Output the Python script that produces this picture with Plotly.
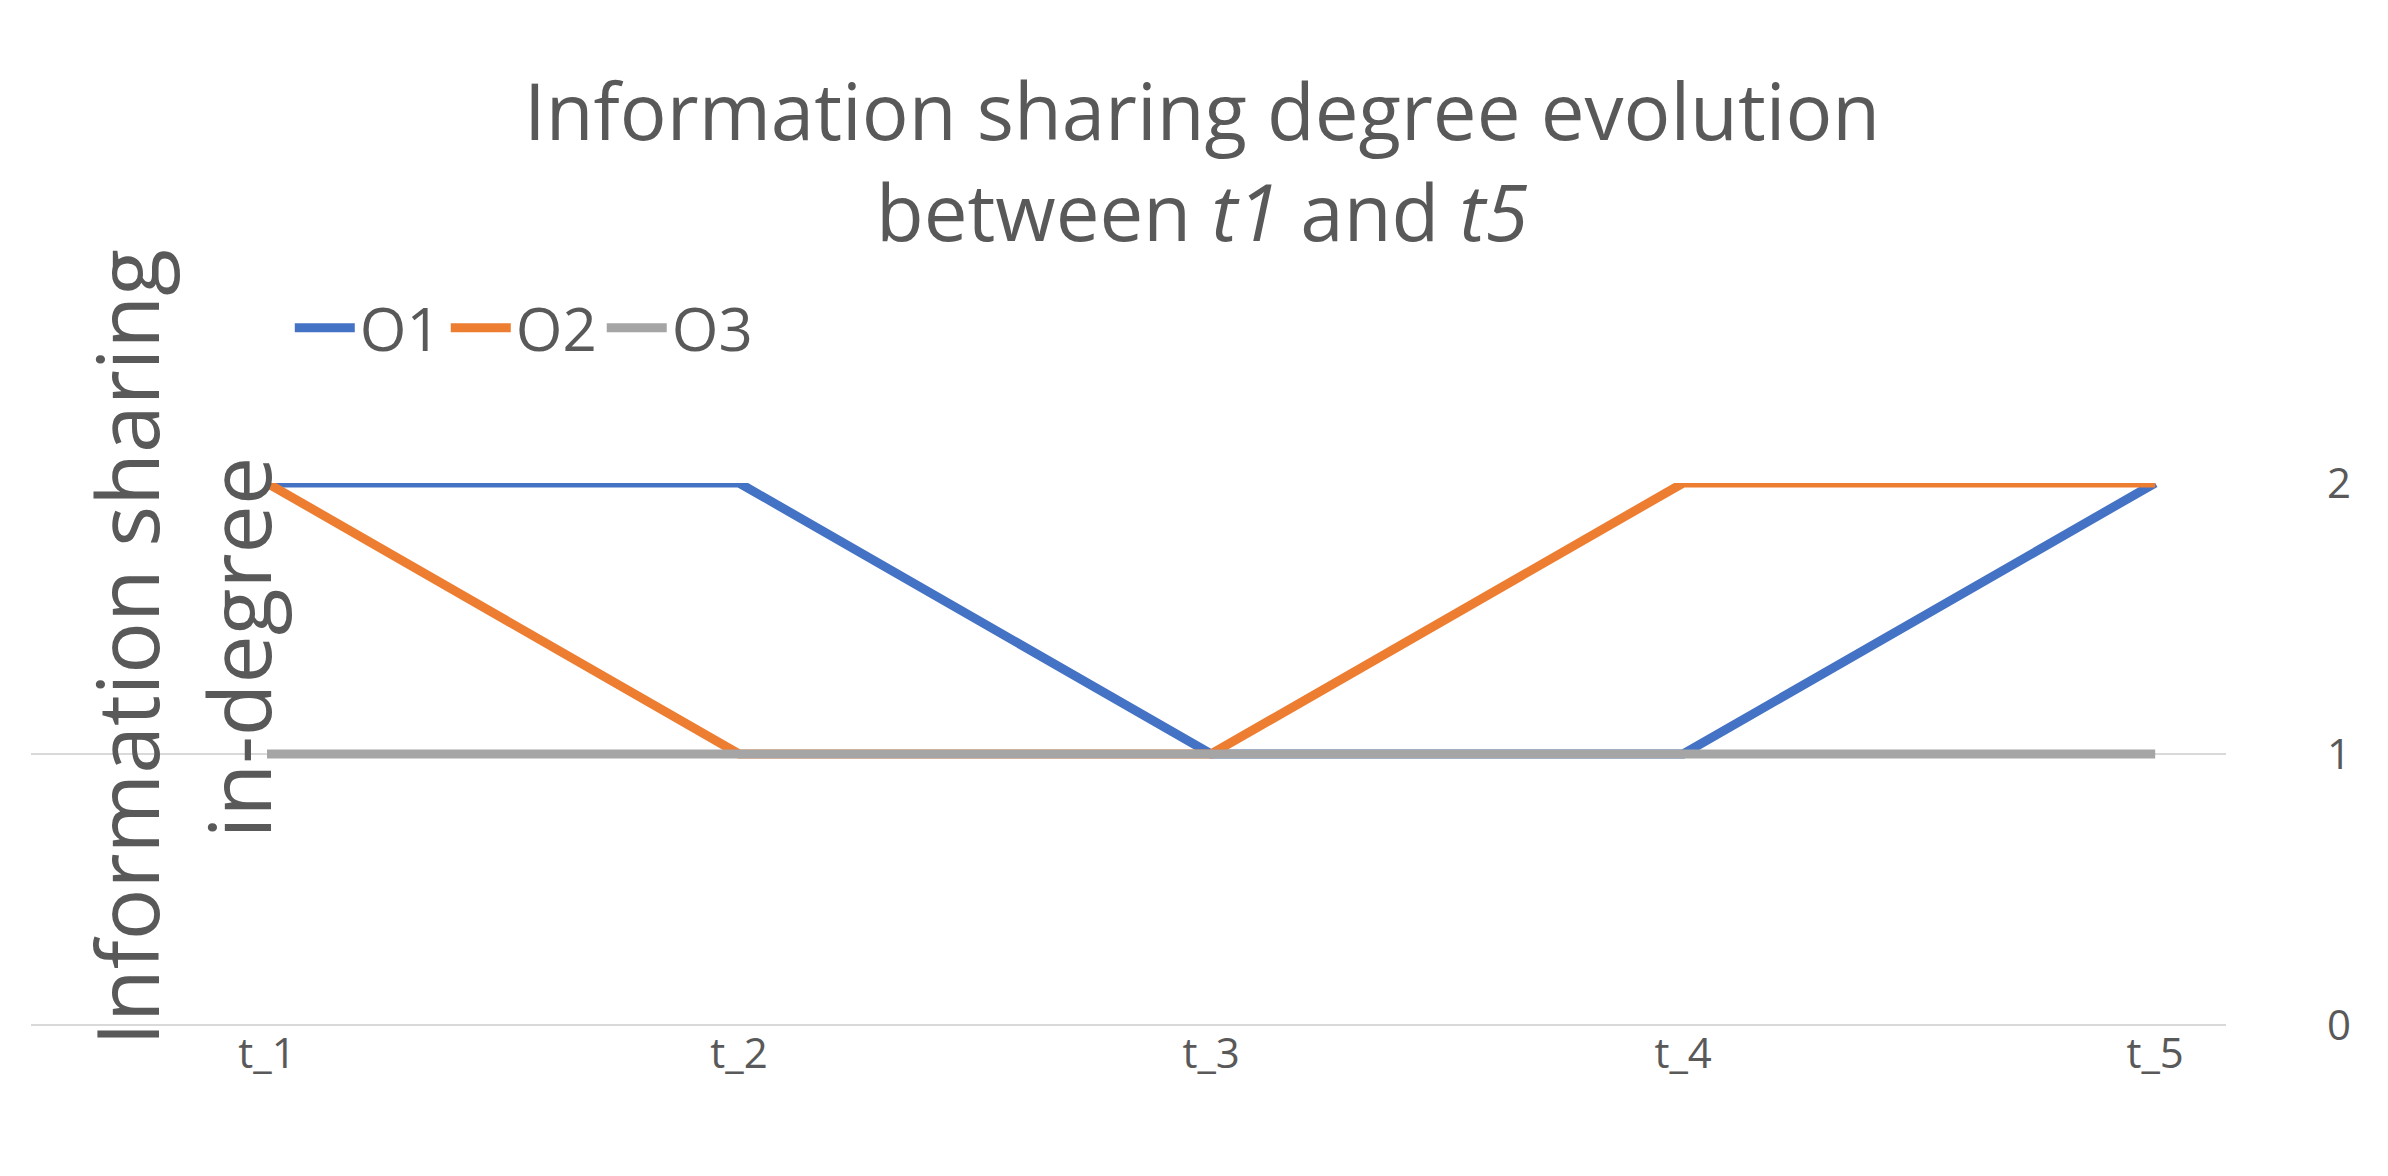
import plotly.graph_objects as go

categories = ["t_1", "t_2", "t_3", "t_4", "t_5"]
o1 = [2, 2, 1, 1, 2]
o2 = [2, 1, 1, 2, 2]
o3 = [1, 1, 1, 1, 1]
series = [("O1", o1, "#4472C4"), ("O2", o2, "#ED7D31"), ("O3", o3, "#A5A5A5")]

fig = go.Figure()
xs = list(range(len(categories)))
for name, vals, col in series:
    fig.add_trace(go.Scatter(x=xs, y=vals, mode="lines", name=name,
                             line=dict(color=col, width=9)))

font = "Open Sans, Liberation Sans, sans-serif"
fig.update_layout(
    width=2388, height=1176,
    paper_bgcolor="white", plot_bgcolor="white",
    margin=dict(l=23, r=170, t=475, b=159),
    font=dict(family=font, color="#595959"),
    showlegend=True,
    legend=dict(orientation="h", xref="container", yref="container",
                x=0.118, xanchor="left", y=0.728, yanchor="middle",
                font=dict(size=60, color="#595959"), bgcolor="rgba(0,0,0,0)",
                itemwidth=60),
    xaxis=dict(tickmode="array", tickvals=xs, ticktext=categories,
               range=[-0.5, 4.15], showgrid=False, zeroline=False, showline=False,
               tickfont=dict(size=42, color="#595959"), ticks=""),
    yaxis=dict(range=[0, 2], side="right", tickvals=[0, 1, 2],
               showgrid=True, gridcolor="#D9D9D9", gridwidth=2,
               zeroline=True, zerolinecolor="#D9D9D9", zerolinewidth=2,
               tickfont=dict(size=42, color="#595959"), ticklabelstandoff=100),
)
fig.add_annotation(text="Information sharing degree evolution<br>between <i>t1</i> and <i>t5</i>",
                   xref="paper", yref="paper", x=0.5, y=1,
                   xanchor="center", yanchor="middle", showarrow=False,
                   xshift=(1194 - (23 + 2218) / 2), yshift=475 - 152,
                   font=dict(size=78, color="#595959"))
fig.add_annotation(text="Information sharing<br>in-degree", textangle=-90,
                   xref="paper", yref="paper", x=0.0, y=0.5,
                   showarrow=False, xanchor="center", yanchor="middle",
                   font=dict(size=86, color="#595959"), xshift=150, yshift=106)
fig.write_html("out.html")
